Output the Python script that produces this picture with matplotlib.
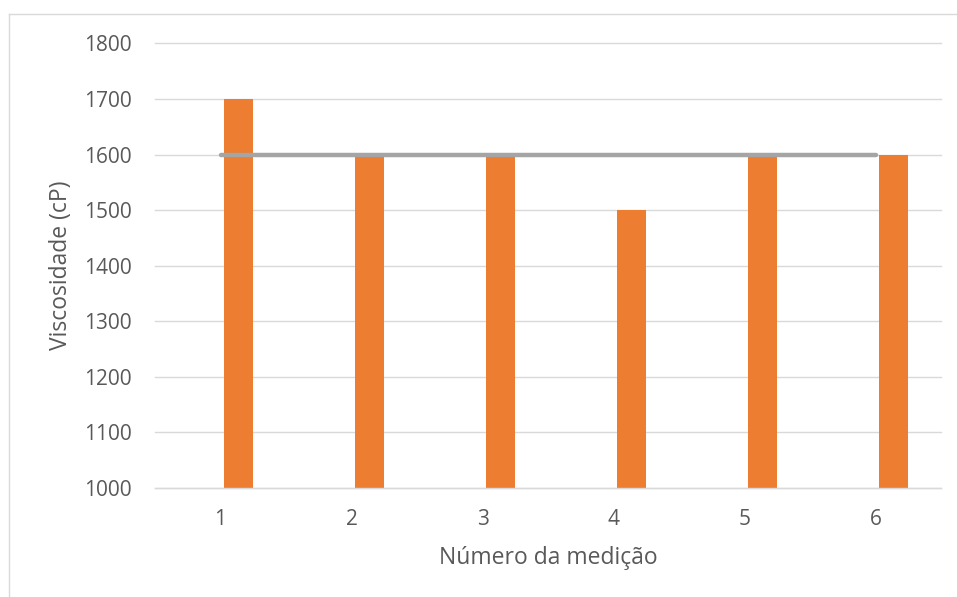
import numpy as np
import matplotlib
matplotlib.use('Agg')
import matplotlib.pyplot as plt
from matplotlib.lines import Line2D

# data
medicoes = ['1', '2', '3', '4', '5', '6']
viscosidade = [1700, 1600, 1600, 1500, 1600, 1600]
media = [1600, 1600, 1600, 1600, 1600, 1600]

plt.rcParams['font.family'] = ['Open Sans', 'DejaVu Sans']
text_color = '#595959'
grid_color = '#D9D9D9'

W, H = 957, 597
fig = plt.figure(figsize=(W / 100, H / 100), dpi=100)
ax = fig.add_axes([155 / W, 1 - 488 / H, 786 / W, (488 - 43.5) / H])

# outer chart border (only top and left are inside the picture)
fig.lines.append(Line2D([9 / W, 1.0], [1 - 14 / H, 1 - 14 / H], transform=fig.transFigure,
                        color=grid_color, linewidth=1.0))
fig.lines.append(Line2D([9 / W, 9 / W], [0.0, 1 - 14 / H], transform=fig.transFigure,
                        color=grid_color, linewidth=1.0))

x = np.arange(len(medicoes))
ax.bar(x + 0.141, np.array(viscosidade) - 1000, bottom=1000, width=0.221, color='#ED7D31', zorder=2)
ax.plot(x, media, color='#A5A5A5', linewidth=3.2, solid_capstyle='round', zorder=3)

ax.set_xlim(-0.5, 5.5)
ax.set_ylim(1000, 1800)
ax.set_yticks(np.arange(1000, 1801, 100))
ax.set_xticks(x)
ax.set_xticklabels(medicoes)

ax.yaxis.grid(True, color=grid_color, linewidth=1.0, zorder=0)
for gl in ax.get_ygridlines():
    gl.set_clip_on(False)
ax.set_axisbelow(True)
for s in ['top', 'right', 'left']:
    ax.spines[s].set_visible(False)
ax.spines['bottom'].set_color(grid_color)
ax.spines['bottom'].set_linewidth(1.0)
ax.tick_params(axis='both', length=0, labelsize=15, colors=text_color)
ax.tick_params(axis='y', pad=17)
ax.tick_params(axis='x', pad=15)

ax.set_ylabel('Viscosidade (cP)', fontsize=16.5, color=text_color, labelpad=7.5)
ax.set_xlabel('Número da medição', fontsize=16.5, color=text_color, labelpad=12)

fig.savefig('out.png', dpi=100)
